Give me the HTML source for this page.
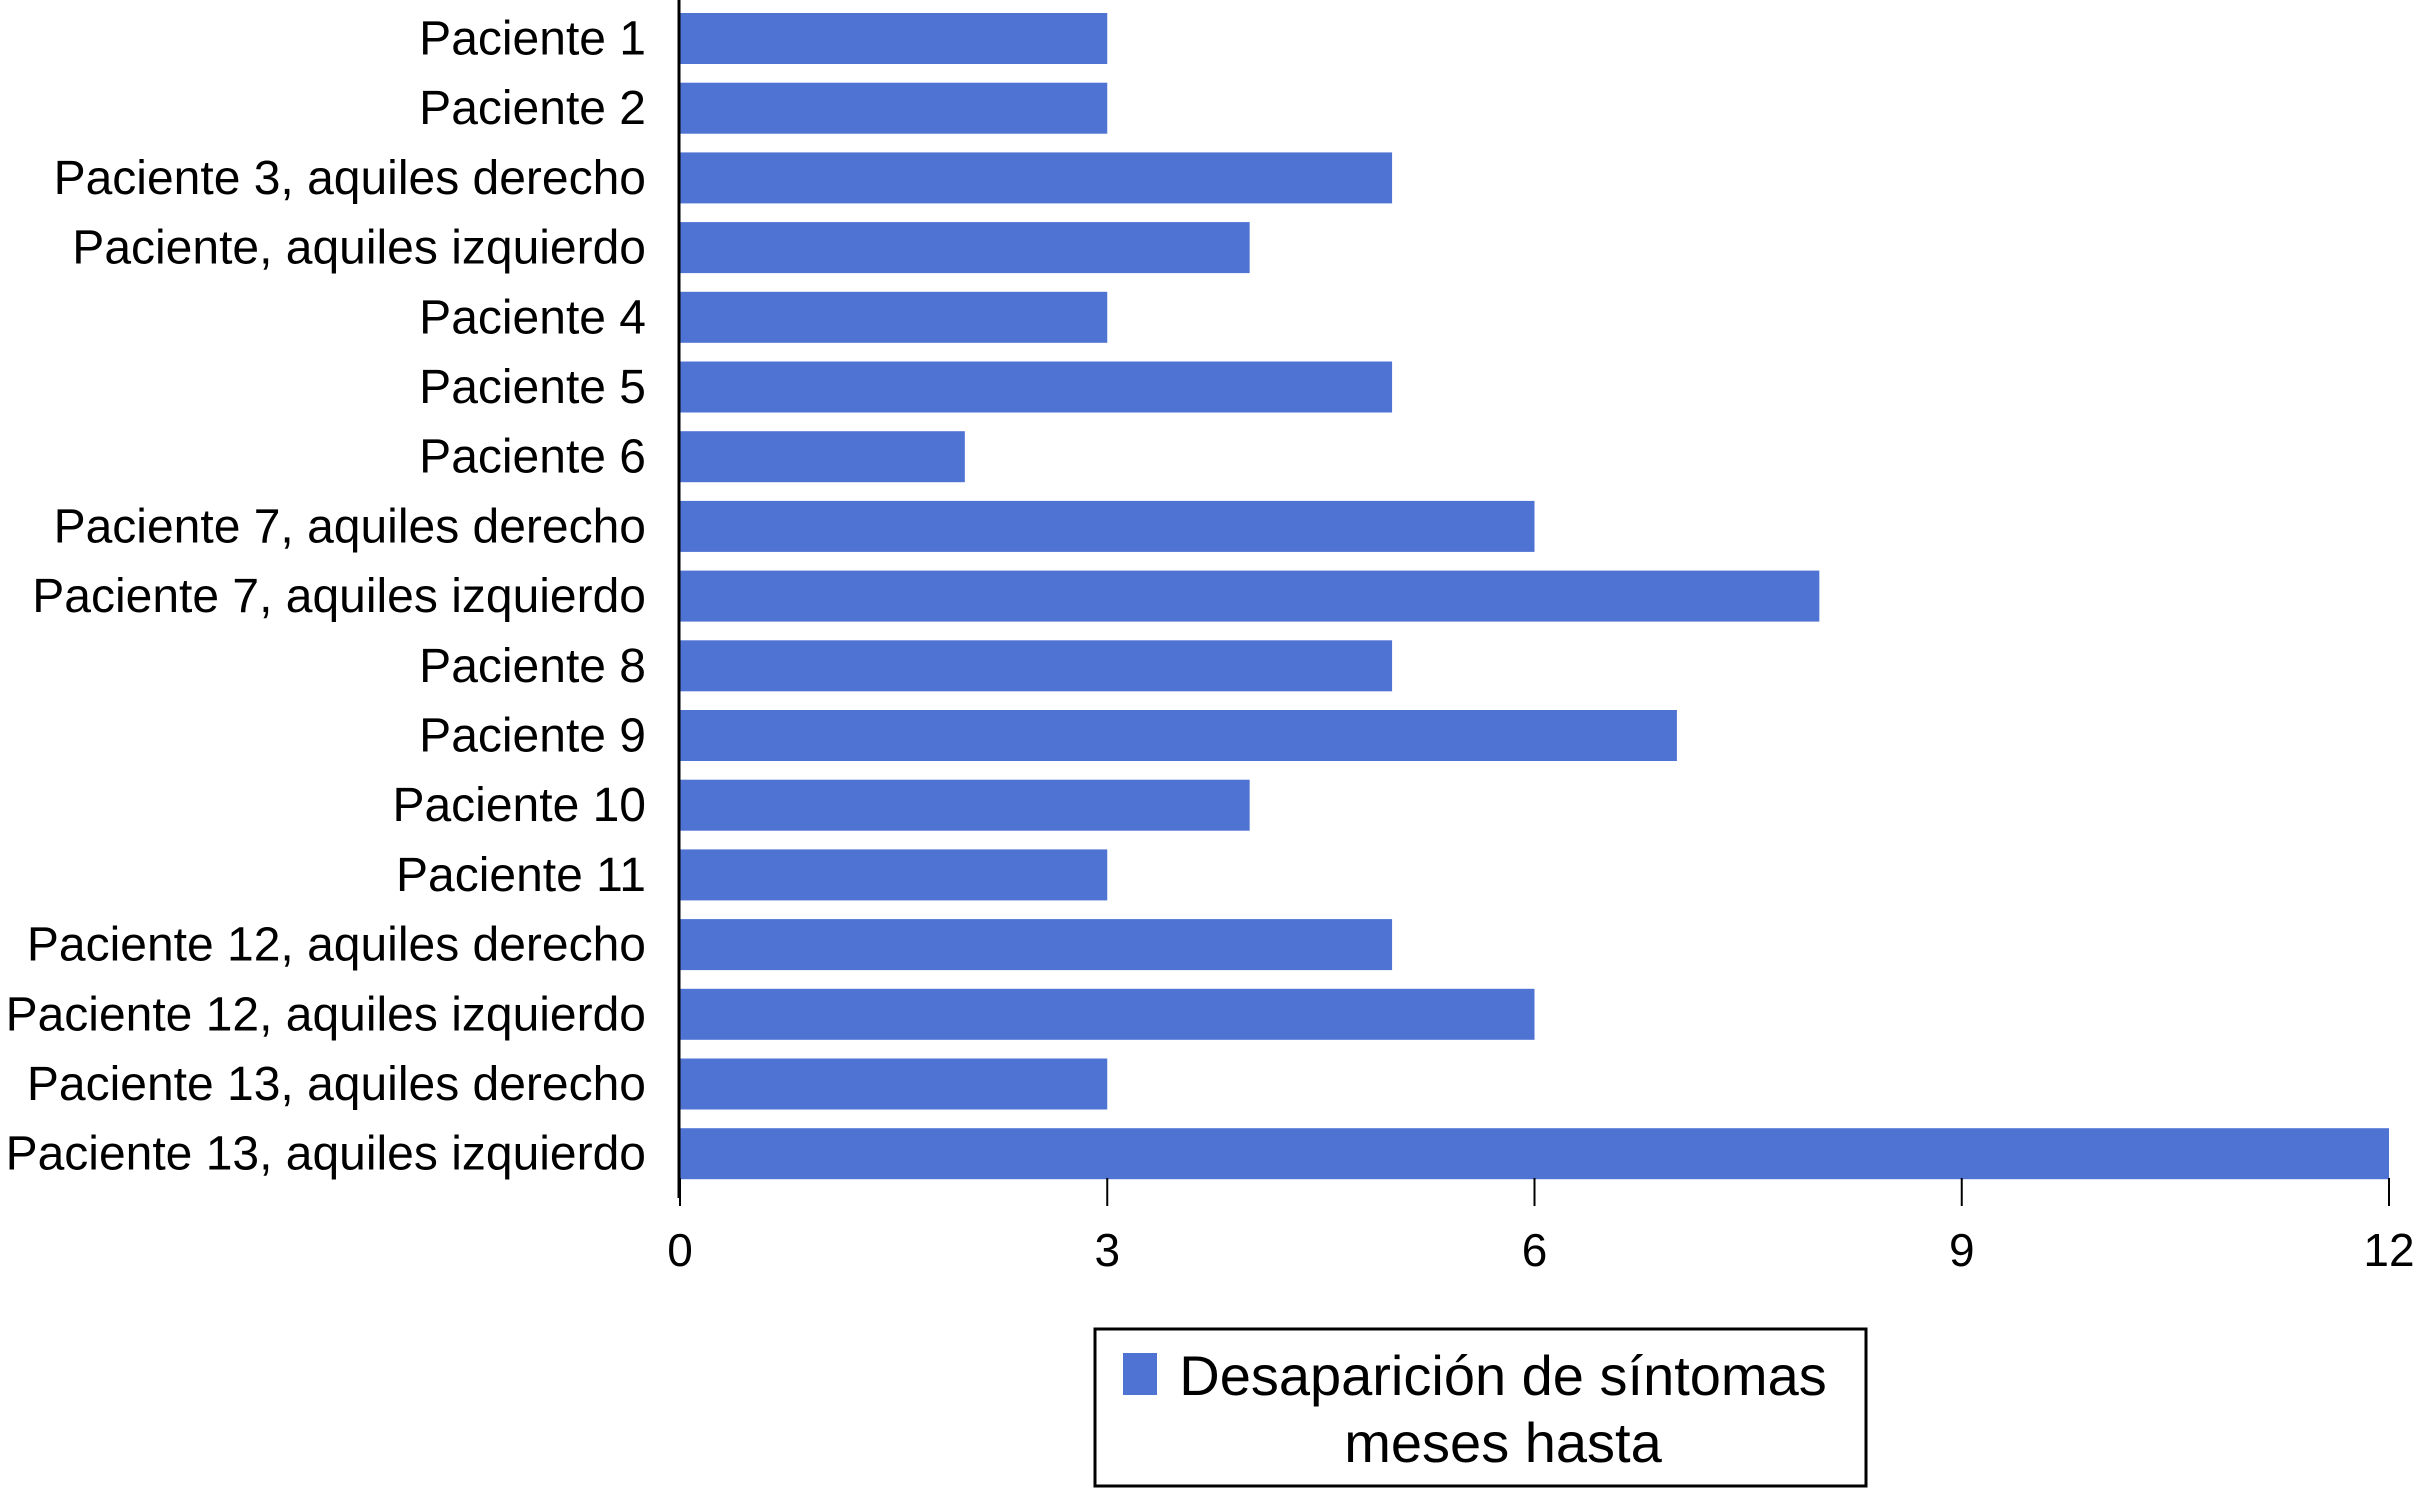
<!DOCTYPE html>
<html><head><meta charset="utf-8"><style>
html,body{margin:0;padding:0;background:#fff;}
svg{display:block;font-family:"Liberation Sans",Arial,sans-serif;}
</style></head><body>
<svg id="chart" width="2414" height="1489" viewBox="0 0 2414 1489" xmlns="http://www.w3.org/2000/svg">
<g id="bars"></g>
<g id="labels"></g>
<g id="xaxis"></g>
<g>
<rect x="1095" y="1329" width="771" height="157" fill="#fff" stroke="#000" stroke-width="3"/>
<rect x="1123" y="1353" width="34" height="42" fill="#4f73d3"/>
<text x="1503" y="1395" font-size="56" text-anchor="middle">Desaparición de síntomas</text>
<text x="1503" y="1462" font-size="56" text-anchor="middle">meses hasta</text>
</g>
</svg>
<script>
const categories = ["Paciente 1","Paciente 2","Paciente 3, aquiles derecho","Paciente, aquiles izquierdo","Paciente 4","Paciente 5","Paciente 6","Paciente 7, aquiles derecho","Paciente 7, aquiles izquierdo","Paciente 8","Paciente 9","Paciente 10","Paciente 11","Paciente 12, aquiles derecho","Paciente 12, aquiles izquierdo","Paciente 13, aquiles derecho","Paciente 13, aquiles izquierdo"];
const values = [3,3,5,4,3,5,2,6,8,5,7,4,3,5,6,3,12];
const xTicks = [0,3,6,9,12];

const NS="http://www.w3.org/2000/svg";
const x0=680, x1=2389, xMax=12;
const yTop=13, pitch=69.7, barH=51;
function xs(v){return x0+(v/xMax)*(x1-x0);}
function yb(i){return yTop+i*pitch;}
const bars=document.getElementById('bars'), labels=document.getElementById('labels'), xaxis=document.getElementById('xaxis');
categories.forEach((c,i)=>{
  const r=document.createElementNS(NS,'rect');
  
  
  r.setAttribute('x',xs(0));r.setAttribute('y',yb(i));
  r.setAttribute('width',xs(values[i])-xs(0));r.setAttribute('height',barH);
  r.setAttribute('fill','#4f73d3');
  bars.appendChild(r);
  const t=document.createElementNS(NS,'text');
  
  
  t.setAttribute('x',646);t.setAttribute('y',yb(i)+barH/2+16);
  t.setAttribute('font-size','48');t.setAttribute('text-anchor','end');
  t.textContent=c;labels.appendChild(t);
});
const ax=document.createElementNS(NS,'line');


ax.setAttribute('x1',x0-1);ax.setAttribute('x2',x0-1);ax.setAttribute('y1',0);ax.setAttribute('y2',1198);
ax.setAttribute('stroke','#000');ax.setAttribute('stroke-width','3');
xaxis.appendChild(ax);
xTicks.forEach(v=>{
  const l=document.createElementNS(NS,'line');
  
  
  l.setAttribute('x1',xs(v));l.setAttribute('x2',xs(v));l.setAttribute('y1',1178);l.setAttribute('y2',1206);
  l.setAttribute('stroke','#000');l.setAttribute('stroke-width','2');
  xaxis.appendChild(l);
  const t=document.createElementNS(NS,'text');
  
  
  t.setAttribute('x',xs(v));t.setAttribute('y',1266);
  t.setAttribute('font-size','46');t.setAttribute('text-anchor','middle');
  t.textContent=v;xaxis.appendChild(t);
});
</script>
</body></html>
